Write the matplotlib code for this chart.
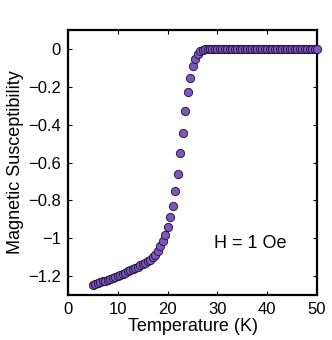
import matplotlib
matplotlib.use('Agg')
import matplotlib.pyplot as plt

# temperature (K) and susceptibility
temperature = [5.0, 5.5, 6.0, 6.5, 7.0, 7.5, 8.0, 8.5, 9.0, 9.5,
               10.0, 10.5, 11.0, 11.5, 12.0, 12.5, 13.0, 13.5, 14.0, 14.5,
               15.0, 15.5, 16.0, 16.5, 17.0, 17.5, 18.0, 18.5, 19.0, 19.5,
               20.0, 20.5, 21.0, 21.5, 22.0, 22.5, 23.0, 23.5, 24.0, 24.5,
               25.0, 25.5, 26.0, 26.5, 27.0, 27.5, 28.0, 28.5, 29.0, 29.5,
               30.0, 30.5, 31.0, 31.5, 32.0, 32.5, 33.0, 33.5, 34.0, 34.5,
               35.0, 35.5, 36.0, 36.5, 37.0, 37.5, 38.0, 38.5, 39.0, 39.5,
               40.0, 40.5, 41.0, 41.5, 42.0, 42.5, 43.0, 43.5, 44.0, 44.5,
               45.0, 45.5, 46.0, 46.5, 47.0, 47.5, 48.0, 48.5, 49.0, 49.5,
               50.0]
chi = [-1.245, -1.241, -1.237, -1.233, -1.228, -1.223, -1.218, -1.213, -1.208, -1.203,
       -1.198, -1.192, -1.187, -1.181, -1.175, -1.169, -1.163, -1.157, -1.150, -1.143,
       -1.136, -1.129, -1.121, -1.112, -1.101, -1.087, -1.068, -1.043, -1.014, -0.980,
       -0.940, -0.890, -0.830, -0.752, -0.660, -0.552, -0.444, -0.330, -0.229, -0.152,
       -0.092, -0.052, -0.026, -0.011, -0.004, -0.001, 0.0, 0.0, 0.0, 0.0,
       0.0, 0.0, 0.0, 0.0, 0.0, 0.0, 0.0, 0.0, 0.0, 0.0,
       0.0, 0.0, 0.0, 0.0, 0.0, 0.0, 0.0, 0.0, 0.0, 0.0,
       0.0, 0.0, 0.0, 0.0, 0.0, 0.0, 0.0, 0.0, 0.0, 0.0,
       0.0, 0.0, 0.0, 0.0, 0.0, 0.0, 0.0, 0.0, 0.0, 0.0,
       0.0]
xticks = [0, 10, 20, 30, 40, 50]
yticks = [-1.2, -1.0, -0.8, -0.6, -0.4, -0.2, 0.0]
ytick_labels = ['\u22121.2', '\u22121', '\u22120.8', '\u22120.6', '\u22120.4', '\u22120.2', '0']

plt.rcParams['font.family'] = ['Liberation Sans', 'DejaVu Sans']

fig = plt.figure(figsize=(3.32, 3.40), dpi=100)
ax = fig.add_axes([0.205, 0.132, 0.75, 0.780])

ax.plot(temperature, chi, 'o', ms=6, mfc='#7d55bd', mec='#1a1030', mew=0.6,
        clip_on=False, zorder=3)

ax.set_xlim(0, 50)
ax.set_ylim(-1.3, 0.1)
ax.set_xticks(xticks)
ax.set_yticks(yticks)
ax.set_yticklabels(ytick_labels)
ax.tick_params(direction='in', top=True, right=True, length=3, width=0.8,
               labelsize=12, pad=5)
for s in ax.spines.values():
    s.set_linewidth(1.6)

ax.set_xlabel('Temperature (K)', fontsize=13, labelpad=1)
ax.set_ylabel('Magnetic Susceptibility', fontsize=13, labelpad=3)
ax.text(36.5, -1.03, 'H = 1 Oe', fontsize=13, ha='center', va='center')

fig.savefig('out.png', dpi=100)
